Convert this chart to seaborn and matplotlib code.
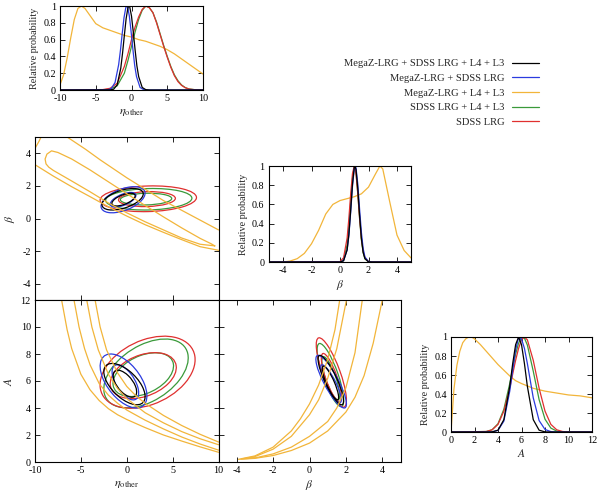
import numpy as np
import matplotlib
matplotlib.use("Agg")
import matplotlib.pyplot as plt
import seaborn as sns
from matplotlib.patches import Ellipse
from matplotlib.lines import Line2D
from matplotlib.ticker import FuncFormatter

sns.set_theme(style="ticks")
plt.rcParams['font.family'] = ['Liberation Serif', 'DejaVu Serif']
plt.rcParams['mathtext.fontset'] = 'stix'
plt.rcParams['axes.facecolor'] = 'white'

# ---------------- data ----------------
labels = ["MegaZ-LRG + SDSS LRG + L4 + L3", "MegaZ-LRG + SDSS LRG",
          "MegaZ-LRG + L4 + L3", "SDSS LRG + L4 + L3", "SDSS LRG"]
keys = ["black", "blue", "orange", "green", "red"]
colors = {"black": "#000000", "blue": "#2b3bdf", "orange": "#f2b53a",
          "green": "#3a9a3a", "red": "#e0302f"}

# 1D: eta_other
eta_orange_x = [-10, -9.5, -9, -8.5, -8, -7.5, -7, -6.5, -6, -5.5, -5, -4, -3, -2, -1, 0, 1, 2, 3, 4, 5, 6, 7, 8, 9, 10]
eta_orange_y = [0.06, 0.18, 0.38, 0.62, 0.84, 0.97, 1.0, 0.97, 0.91, 0.85, 0.79, 0.74, 0.71, 0.68, 0.65, 0.63, 0.60, 0.58, 0.55, 0.52, 0.48, 0.43, 0.37, 0.31, 0.25, 0.19]
eta_black_x = [-10, -3, -2.5, -2, -1.5, -1.25, -1, -0.75, -0.5, -0.35, -0.25, 0, 0.25, 0.5, 0.75, 1, 1.5, 2, 2.5, 10]
eta_black_y = [0, 0.001, 0.009, 0.062, 0.26, 0.44, 0.65, 0.85, 0.98, 1.0, 0.99, 0.88, 0.69, 0.48, 0.29, 0.16, 0.03, 0.004, 0, 0]
eta_blue_x = [-10, -3.3, -2.8, -2.3, -1.8, -1.55, -1.3, -1.05, -0.8, -0.65, -0.55, -0.3, -0.05, 0.2, 0.45, 0.7, 1.2, 1.7, 2.2, 10]
eta_blue_y = [0, 0.003, 0.02, 0.09, 0.3, 0.47, 0.67, 0.86, 0.98, 1.0, 0.99, 0.88, 0.69, 0.48, 0.29, 0.16, 0.03, 0.004, 0, 0]
eta_rg_x = [-10, -4, -3, -2, -1, -0.5, 0, 0.5, 1, 1.5, 2, 2.5, 3, 3.5, 4, 4.5, 5, 5.5, 6, 6.5, 7, 7.5, 8, 9, 10]
eta_red_y = [0, 0.005, 0.02, 0.08, 0.28, 0.43, 0.6, 0.75, 0.87, 0.96, 1.0, 0.98, 0.92, 0.8, 0.66, 0.52, 0.39, 0.27, 0.17, 0.1, 0.055, 0.028, 0.012, 0.002, 0]
eta_green_y = [0, 0.002, 0.01, 0.05, 0.2, 0.35, 0.52, 0.69, 0.84, 0.95, 1.0, 0.98, 0.92, 0.81, 0.67, 0.53, 0.4, 0.28, 0.18, 0.11, 0.06, 0.03, 0.013, 0.002, 0]

# 1D: beta
beta_orange_x = [-5, -4, -3.5, -3, -2.5, -2, -1.5, -1, -0.5, 0, 0.5, 1, 1.5, 2, 2.5, 2.8, 3.0, 3.5, 4, 4.5, 5]
beta_orange_y = [0, 0, 0.01, 0.035, 0.09, 0.19, 0.33, 0.5, 0.6, 0.64, 0.66, 0.68, 0.71, 0.78, 0.92, 1.0, 0.97, 0.62, 0.28, 0.12, 0.04]
beta_x = [-5, 0, 0.25, 0.5, 0.625, 0.75, 0.875, 1.0, 1.05, 1.125, 1.25, 1.375, 1.5, 1.625, 1.75, 2.0, 2.25, 5]
beta_black_y = [0, 0.0005, 0.012, 0.126, 0.29, 0.54, 0.81, 0.983, 1.0, 0.962, 0.76, 0.485, 0.25, 0.10, 0.035, 0.002, 0, 0]
beta_blue_y = [0, 0.0007, 0.014, 0.126, 0.28, 0.52, 0.785, 0.97, 0.997, 0.981, 0.81, 0.55, 0.31, 0.14, 0.052, 0.004, 0, 0]
beta_green_y = [0, 0.001, 0.023, 0.18, 0.37, 0.63, 0.87, 0.997, 0.994, 0.93, 0.71, 0.45, 0.23, 0.097, 0.033, 0.002, 0, 0]
beta_red_y = [0, 0.004, 0.044, 0.25, 0.46, 0.71, 0.92, 1.0, 0.986, 0.92, 0.71, 0.46, 0.25, 0.114, 0.044, 0.004, 0, 0]

# 1D: A
A_orange_x = [0, 0.25, 0.5, 0.75, 1, 1.25, 1.5, 1.75, 2, 2.5, 3, 3.5, 4, 4.5, 5, 5.5, 6, 7, 8, 9, 10, 11, 12]
A_orange_y = [0, 0.45, 0.7, 0.85, 0.94, 0.98, 1.0, 1.0, 0.98, 0.92, 0.85, 0.78, 0.71, 0.65, 0.59, 0.54, 0.51, 0.46, 0.43, 0.41, 0.39, 0.38, 0.36]
A_x = [0, 3, 3.5, 4, 4.5, 5, 5.25, 5.5, 5.75, 6, 6.25, 6.5, 7, 7.5, 8, 8.5, 9, 9.5, 10, 12]
A_black_y = [0, 0, 0.001, 0.019, 0.13, 0.48, 0.72, 0.92, 1.0, 0.92, 0.72, 0.48, 0.13, 0.019, 0.001, 0, 0, 0, 0, 0]
A_blue_y = [0, 0, 0.002, 0.017, 0.115, 0.43, 0.65, 0.865, 0.99, 0.98, 0.88, 0.72, 0.36, 0.12, 0.027, 0.004, 0, 0, 0, 0]
A_green_y = [0, 0.005, 0.024, 0.087, 0.24, 0.51, 0.67, 0.82, 0.934, 0.995, 0.988, 0.915, 0.64, 0.34, 0.135, 0.041, 0.0095, 0.0015, 0, 0]
A_red_y = [0, 0.005, 0.023, 0.08, 0.22, 0.46, 0.61, 0.755, 0.88, 0.97, 1.0, 0.97, 0.755, 0.46, 0.22, 0.08, 0.023, 0.005, 0.001, 0]

# 2D contours of the Gaussian-like sets: (centre x, centre y, half-width x, half-height y, tilt)
eta_beta_68 = {"black": (-0.35, 1.16, 1.27, 0.39, 0.6), "blue": (-0.4, 1.15, 1.4, 0.45, 0.6),
               "green": (2.1, 1.19, 2.8, 0.36, 0.1), "red": (2.2, 1.19, 3.1, 0.46, 0.1)}
eta_beta_95 = {"black": (-0.45, 1.18, 2.25, 0.66, 0.5), "blue": (-0.4, 1.15, 2.4, 0.8, 0.5),
               "green": (2.4, 1.18, 4.7, 0.66, 0.1), "red": (2.35, 1.21, 5.25, 0.79, 0.1)}
eta_A_68 = {"black": (-0.2, 5.8, 1.28, 1.0, -0.6), "blue": (-0.15, 5.9, 1.45, 1.3, -0.6),
            "green": (1.8, 6.47, 3.3, 1.62, 0.4), "red": (1.8, 6.4, 3.6, 1.7, 0.35)}
eta_A_95 = {"black": (-0.25, 5.77, 2.25, 1.53, -0.6), "blue": (-0.35, 6.0, 2.55, 2.0, -0.55),
            "green": (2.1, 6.56, 4.6, 2.55, 0.45), "red": (2.27, 6.65, 5.18, 2.67, 0.35)}
beta_A_68 = {"black": (1.15, 5.85, 0.45, 1.25, -0.85), "blue": (1.18, 5.8, 0.57, 1.4, -0.85),
             "green": (1.17, 6.2, 0.49, 1.6, -0.8), "red": (1.2, 6.26, 0.55, 1.78, -0.8)}
beta_A_95 = {"black": (1.17, 6.07, 0.7, 1.83, -0.85), "blue": (1.19, 5.95, 0.84, 1.95, -0.85),
             "green": (1.15, 6.44, 0.73, 2.34, -0.8), "red": (1.2, 6.63, 0.83, 2.57, -0.8)}

# orange (MegaZ-LRG + L4 + L3) contour lines, eta vs beta
eb_out_up_x = [-6.5, -4.5, -2.9, 0, 2, 4, 6, 8, 10]
eb_out_up_y = [5.0, 4.25, 3.6, 2.5, 1.8, 1.1, 0.5, -0.1, -0.7]
eb_out_corner_x = [-10, -9.8, -9.55, -9.3]
eb_out_corner_y = [4.3, 4.5, 4.75, 5.05]
eb_out_lo_x = [-10, -8, -6, -4, -2, 0, 2, 4, 6, 8, 10]
eb_out_lo_y = [3.3, 2.6, 1.95, 1.34, 0.72, 0.15, -0.38, -0.85, -1.3, -1.73, -1.95]
eb_in_x = [9.6, 9.2, 8, 6, 4, 2, 0, -2, -4, -6, -7.5, -8.2, -8.7, -8.9, -8.8, -8.5, -8, -6, -4, -2, 0, 2, 4, 6, 8, 9.6]
eb_in_y = [-1.68, -1.55, -1.22, -0.58, 0.1, 0.8, 1.52, 2.25, 2.98, 3.65, 4.05, 4.15, 3.95, 3.65, 3.35, 3.15, 2.95, 2.3, 1.64, 0.95, 0.35, -0.2, -0.7, -1.2, -1.58, -1.68]

# orange contour lines, eta vs A
ea_a_x = [-7.1, -6.5, -6, -5, -4, -3, -2, -1, 0, 2, 4, 6, 8, 10]
ea_a_y = [12, 9.8, 8.4, 6.5, 5.35, 4.55, 3.95, 3.5, 3.15, 2.55, 2.0, 1.55, 1.12, 0.72]
ea_b_x = [-5.75, -5.2, -4.6, -4, -3, -2, -1, 0, 2, 4, 6, 8, 10]
ea_b_y = [12, 10, 8.4, 7.2, 5.8, 4.95, 4.35, 3.85, 3.1, 2.45, 1.85, 1.33, 0.88]
ea_c_x = [-4.36, -3.8, -3.1, -2, -1, 0, 2, 4, 6, 8, 10]
ea_c_y = [12, 10, 8.3, 6.5, 5.45, 4.7, 3.65, 2.9, 2.25, 1.72, 1.28]
ea_d_x = [-3.45, -2.9, -2.2, -1, 0, 1, 2, 4, 6, 8, 10]
ea_d_y = [12, 10, 8.3, 6.6, 5.6, 4.9, 4.35, 3.45, 2.7, 2.05, 1.48]

# orange contour lines, beta vs A
ba_out_x = [1.66, 1.4, 1.0, 0.5, 0, -0.5, -1, -2, -3, -3.9, -3, -2, -1, 0, 1, 2, 2.5, 3, 3.5, 4.0]
ba_out_y = [12, 9.8, 7.6, 5.7, 4.3, 3.2, 2.3, 1.1, 0.45, 0.2, 0.27, 0.48, 0.85, 1.4, 2.3, 3.7, 4.8, 6.4, 8.8, 12]
ba_in_x = [2.03, 1.5, 1.0, 0.5, 0, -1, -2, -3, -3.75, -3, -2, -1, 0, 1, 1.5, 2, 2.5, 2.9]
ba_in_y = [12, 8.4, 6.2, 4.6, 3.5, 1.9, 0.95, 0.4, 0.22, 0.3, 0.6, 1.1, 1.9, 3.0, 4.0, 5.5, 8.1, 12]

# ---------------- figure ----------------
fig = plt.figure(figsize=(6.0, 4.98), dpi=100)
W, H = 600.0, 498.0

def add_axes(x0, x1, y0, y1):
    return fig.add_axes([x0 / W, 1 - y1 / H, (x1 - x0) / W, (y1 - y0) / H])

ax_eta = add_axes(60, 203, 6, 90)
ax_beta = add_axes(268.75, 411.25, 166, 262)
ax_A = add_axes(451, 592, 337, 432)
ax_eb = add_axes(35, 218.5, 137, 300)
ax_ea = add_axes(35, 218.5, 300, 462)
ax_ba = add_axes(218.5, 400.5, 300, 462)

FS = 7.3
lw = 0.9

def style(ax):
    ax.tick_params(direction='in', top=True, right=True, length=3.5, width=0.6,
                   labelsize=FS, pad=3, colors='black')
    for s in ax.spines.values():
        s.set_color('black')
        s.set_linewidth(0.8)
    ax.grid(False)

def line(ax, x, y, c):
    sns.lineplot(x=x, y=y, ax=ax, color=colors[c], lw=lw, sort=False, estimator=None)

fmt = FuncFormatter(lambda v, p: f"{v:g}")

# 1D eta
line(ax_eta, eta_orange_x, eta_orange_y, "orange")
line(ax_eta, eta_rg_x, eta_green_y, "green")
line(ax_eta, eta_rg_x, eta_red_y, "red")
line(ax_eta, eta_blue_x, eta_blue_y, "blue")
line(ax_eta, eta_black_x, eta_black_y, "black")
ax_eta.set_xlim(-10, 10)
ax_eta.set_ylim(0, 1)
ax_eta.set_xticks([-10, -5, 0, 5, 10])
ax_eta.set_yticks([0, 0.2, 0.4, 0.6, 0.8, 1])

# 1D beta
line(ax_beta, beta_orange_x, beta_orange_y, "orange")
line(ax_beta, beta_x, beta_green_y, "green")
line(ax_beta, beta_x, beta_red_y, "red")
line(ax_beta, beta_x, beta_blue_y, "blue")
line(ax_beta, beta_x, beta_black_y, "black")
ax_beta.set_xlim(-5, 5)
ax_beta.set_ylim(0, 1)
ax_beta.set_xticks([-4, -2, 0, 2, 4])
ax_beta.set_yticks([0, 0.2, 0.4, 0.6, 0.8, 1])

# 1D A
line(ax_A, A_orange_x, A_orange_y, "orange")
line(ax_A, A_x, A_green_y, "green")
line(ax_A, A_x, A_red_y, "red")
line(ax_A, A_x, A_blue_y, "blue")
line(ax_A, A_x, A_black_y, "black")
ax_A.set_xlim(0, 12)
ax_A.set_ylim(0, 1)
ax_A.set_xticks([0, 2, 4, 6, 8, 10, 12])
ax_A.set_yticks([0, 0.2, 0.4, 0.6, 0.8, 1])

for ax in (ax_eta, ax_beta, ax_A):
    ax.set_ylabel("Relative probability", fontsize=FS, labelpad=3)

def ellipse(ax, p, c):
    cx, cy, rx, ry, rho = p
    m = np.array([[rx * rx, rho * rx * ry], [rho * rx * ry, ry * ry]])
    vals, vecs = np.linalg.eigh(m)
    ang = np.degrees(np.arctan2(vecs[1, 1], vecs[0, 1]))
    e = Ellipse((cx, cy), 2 * np.sqrt(vals[1]), 2 * np.sqrt(vals[0]), angle=ang,
                fill=False, edgecolor=colors[c], lw=lw)
    ax.add_patch(e)

order2d = ["green", "red", "blue", "black"]

# eta vs beta
line(ax_eb, eb_out_up_x, eb_out_up_y, "orange")
line(ax_eb, eb_out_corner_x, eb_out_corner_y, "orange")
line(ax_eb, eb_out_lo_x, eb_out_lo_y, "orange")
line(ax_eb, eb_in_x, eb_in_y, "orange")
for c in order2d:
    ellipse(ax_eb, eta_beta_95[c], c)
    ellipse(ax_eb, eta_beta_68[c], c)
ax_eb.set_xlim(-10, 10)
ax_eb.set_ylim(-5, 5)
ax_eb.set_xticks([-10, -5, 0, 5, 10])
ax_eb.set_yticks([-4, -2, 0, 2, 4])
ax_eb.set_ylabel(r"$\beta$", fontsize=FS + 1, labelpad=4)

# eta vs A
for xs, ys in ((ea_a_x, ea_a_y), (ea_b_x, ea_b_y), (ea_c_x, ea_c_y), (ea_d_x, ea_d_y)):
    line(ax_ea, xs, ys, "orange")
for c in order2d:
    ellipse(ax_ea, eta_A_95[c], c)
    ellipse(ax_ea, eta_A_68[c], c)
ax_ea.set_xlim(-10, 10)
ax_ea.set_ylim(0, 12)
ax_ea.set_xticks([-10, -5, 0, 5, 10])
ax_ea.set_yticks([0, 2, 4, 6, 8, 10, 12])
ax_ea.set_ylabel(r"$A$", fontsize=FS + 1, labelpad=4)

# beta vs A
line(ax_ba, ba_out_x, ba_out_y, "orange")
line(ax_ba, ba_in_x, ba_in_y, "orange")
for c in order2d:
    ellipse(ax_ba, beta_A_95[c], c)
    ellipse(ax_ba, beta_A_68[c], c)
ax_ba.set_xlim(-5, 5)
ax_ba.set_ylim(0, 12)
ax_ba.set_xticks([-4, -2, 0, 2, 4])
ax_ba.set_yticks([0, 2, 4, 6, 8, 10, 12])

eta_lab = r"$\eta_{\mathrm{other}}$"
ax_eta.set_xlabel(eta_lab, fontsize=FS + 1.5, labelpad=2)
ax_ea.set_xlabel(eta_lab, fontsize=FS + 1.5, labelpad=2)
ax_beta.set_xlabel(r"$\beta$", fontsize=FS + 1, labelpad=2)
ax_ba.set_xlabel(r"$\beta$", fontsize=FS + 1, labelpad=2)
ax_A.set_xlabel(r"$A$", fontsize=FS + 1, labelpad=2)

for ax in (ax_eta, ax_beta, ax_A, ax_eb, ax_ea, ax_ba):
    style(ax)
    ax.xaxis.set_major_formatter(fmt)
    ax.yaxis.set_major_formatter(fmt)
ax_eb.set_xticklabels([])
ax_ba.set_yticklabels([])

# legend
handles = [Line2D([], [], color=colors[k], lw=lw) for k in keys]
fig.legend(handles, labels, loc='upper right', bbox_to_anchor=(539 / W, 1 - 59 / H),
           markerfirst=False, frameon=False, fontsize=7.6, handlelength=2.6,
           handletextpad=0.65, labelspacing=0.5, borderaxespad=0, borderpad=0)

fig.savefig("out.png", dpi=100, facecolor="white")
